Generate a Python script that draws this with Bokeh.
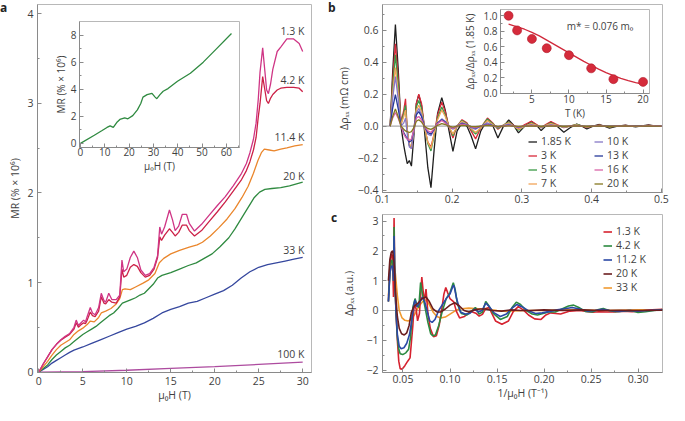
from bokeh.plotting import figure
from bokeh.models import Range1d, FixedTicker, Label, Legend, LegendItem, Span, GridBox, Div
from bokeh.core.properties import value
from bokeh.embed import file_html
from bokeh.resources import INLINE

# ---------------- data: panel a (MR vs field) ----------------
a_x_low = [0, 0.5, 1, 1.5, 2, 2.5, 3, 3.5, 4, 4.25, 4.5, 4.8, 5.1, 5.3, 5.5, 5.85, 6.1, 6.4, 6.8, 7.1,
           7.4, 7.6, 7.95, 8.3, 8.8, 9.2, 9.45, 9.65, 10.0, 10.4, 10.8, 11.2, 11.6, 12.1, 12.6, 13.1,
           13.5, 13.75, 13.95, 14.3, 14.85, 15.2, 15.5, 15.9, 16.3, 16.8, 17.1, 17.7, 18.5, 19.35,
           20.3, 21.2, 22.1, 23.05, 23.6, 24.0, 24.4, 24.7, 24.95, 25.15, 25.45, 25.7, 25.9, 26.1,
           26.35, 26.6, 27.1, 27.5, 28.2, 28.97, 29.6, 30.0]
mr_1p3K = [0, 0.09, 0.17, 0.25, 0.31, 0.36, 0.40, 0.43, 0.50, 0.58, 0.52, 0.55, 0.58, 0.56, 0.62,
           0.72, 0.66, 0.64, 0.72, 0.88, 0.80, 0.78, 0.88, 0.81, 0.81, 0.86, 1.25, 1.12, 1.15, 1.28,
           1.35, 1.28, 1.14, 1.08, 1.10, 1.17, 1.30, 1.62, 1.54, 1.62, 1.81, 1.70, 1.58, 1.63, 1.76,
           1.76, 1.66, 1.575, 1.65, 1.75, 1.86, 1.96, 2.08, 2.22, 2.33, 2.45, 2.60, 2.78, 3.05, 3.35,
           3.62, 3.36, 3.15, 3.11, 3.22, 3.38, 3.58, 3.63, 3.72, 3.72, 3.67, 3.58]
mr_4p2K = [0, 0.09, 0.17, 0.25, 0.31, 0.355, 0.39, 0.42, 0.48, 0.55, 0.50, 0.53, 0.55, 0.54, 0.58,
           0.67, 0.63, 0.62, 0.68, 0.84, 0.77, 0.76, 0.81, 0.78, 0.77, 0.84, 1.15, 1.06, 1.08, 1.17,
           1.20, 1.18, 1.11, 1.06, 1.08, 1.15, 1.28, 1.51, 1.47, 1.53, 1.60, 1.56, 1.52, 1.56, 1.64,
           1.64, 1.58, 1.52, 1.58, 1.68, 1.79, 1.90, 2.02, 2.15, 2.25, 2.35, 2.48, 2.62, 2.85, 3.0,
           3.3, 3.15, 3.03, 3.0, 3.06, 3.1, 3.15, 3.17, 3.18, 3.18, 3.17, 3.13]
a_x_11K = [0, 0.5, 1, 1.5, 2, 2.5, 3, 3.5, 4, 4.5, 5, 5.5, 5.85, 6.3, 6.8, 7.1, 7.6, 8.2, 8.8, 9.2,
           9.5, 9.8, 10.4, 11, 11.8, 12.5, 13.2, 13.7, 14.2, 15, 16, 17.1, 18.0, 18.6, 19.5, 20.45,
           21.4, 22.3, 23.1, 23.8, 24.4, 24.9, 25.3, 25.64, 26.2, 26.75, 27.5, 28.2, 29.1, 30]
mr_11K = [0, 0.06, 0.12, 0.19, 0.25, 0.30, 0.33, 0.36, 0.42, 0.46, 0.49, 0.53, 0.57, 0.56, 0.61,
          0.66, 0.68, 0.71, 0.76, 0.82, 0.92, 0.93, 0.92, 0.95, 0.99, 1.03, 1.10, 1.22, 1.27, 1.32,
          1.36, 1.395, 1.42, 1.45, 1.52, 1.61, 1.71, 1.825, 1.95, 2.075, 2.22, 2.36, 2.45, 2.49,
          2.48, 2.47, 2.49, 2.505, 2.525, 2.54]
a_x_20K = [0, 0.5, 1, 1.5, 2, 2.5, 3, 3.5, 4, 4.5, 5, 5.5, 6, 6.5, 7, 7.5, 8, 8.5, 9, 9.5, 10, 10.5,
           11, 11.5, 12, 12.5, 13, 13.5, 14, 15, 16, 17, 17.9, 18.8, 19.7, 20.6, 21.6, 22.3, 23.05,
           23.8, 24.5, 25.1, 25.7, 26.5, 27.5, 28.5, 30]
mr_20K = [0, 0.04, 0.08, 0.14, 0.19, 0.23, 0.27, 0.30, 0.34, 0.38, 0.42, 0.45, 0.48, 0.51, 0.55,
          0.59, 0.63, 0.66, 0.71, 0.77, 0.79, 0.81, 0.83, 0.86, 0.88, 0.93, 0.98, 1.05, 1.08, 1.11,
          1.15, 1.19, 1.22, 1.27, 1.32, 1.40, 1.50, 1.60, 1.72, 1.84, 1.95, 2.01, 2.04, 2.05, 2.06,
          2.08, 2.12]
a_x_33K = [0, 0.5, 1, 1.5, 2, 2.5, 3, 3.5, 4, 5, 6, 7, 8, 9, 10, 11, 12, 13, 14, 15, 16, 17, 18,
           19, 20, 21, 22, 23, 24, 25, 26, 27, 28, 29, 30]
mr_33K = [0, 0.03, 0.06, 0.10, 0.13, 0.16, 0.19, 0.22, 0.245, 0.28, 0.32, 0.36, 0.40, 0.44, 0.48,
          0.51, 0.55, 0.60, 0.66, 0.70, 0.73, 0.77, 0.79, 0.83, 0.87, 0.91, 0.97, 1.05, 1.12, 1.17,
          1.20, 1.22, 1.24, 1.26, 1.28]
a_x_100K = [0, 5, 10, 15, 20, 25, 30]
mr_100K = [0, 0.005, 0.02, 0.04, 0.06, 0.085, 0.11]
a_names = ["1.3 K", "4.2 K", "11.4 K", "20 K", "33 K", "100 K"]
a_label_y = [3.81, 3.26, 2.62, 2.19, 1.36, 0.20]
a_colors = ["#cf3585", "#cc2147", "#ea862c", "#2f8a40", "#35479e", "#ad4b9f"]

# inset of panel a (to 62 T)
ia_x = [0, 5.7, 8.9, 10.9, 12.2, 13.5, 14.9, 16.2, 18.2, 19.5, 21.5, 23.4, 24.8, 25.7, 27.4, 29.4,
        30.7, 31.4, 32.7, 34, 36, 39.9, 45.2, 50.5, 55.7, 62.1]
ia_y = [0, 0.6, 0.95, 1.18, 1.30, 1.18, 1.54, 1.77, 1.89, 1.82, 2.05, 2.48, 2.95, 3.42, 3.6, 3.70,
        3.42, 3.30, 3.6, 3.85, 4.05, 4.59, 5.18, 6.0, 6.94, 8.11]

# ---------------- data: panel b (oscillations vs 1/B) ----------------
b_x = [0.111, 0.1145, 0.1185, 0.1225, 0.1265, 0.1305, 0.133, 0.1355, 0.1385, 0.1415, 0.145, 0.1485,
       0.152, 0.156, 0.160, 0.165, 0.1695, 0.174, 0.179, 0.185, 0.190, 0.195, 0.201, 0.207, 0.214,
       0.221, 0.227, 0.2335, 0.241, 0.2505, 0.258, 0.2655, 0.273, 0.281, 0.288, 0.295, 0.304,
       0.3135, 0.321, 0.3275, 0.334, 0.3415, 0.350, 0.360, 0.369, 0.3785, 0.386, 0.393, 0.402,
       0.411, 0.418, 0.4255, 0.437, 0.4485, 0.456, 0.463, 0.472, 0.4815, 0.490, 0.500]
b_1p85K = [0.0, 0.33, 0.635, 0.36, 0.0, -0.12, -0.18, -0.235, -0.215, -0.25, -0.06, 0.14, 0.195,
           0.13, -0.02, -0.26, -0.385, -0.15, 0.08, 0.178, 0.10, -0.02, -0.158, -0.03, 0.02, 0.0,
           -0.06, -0.142, -0.03, 0.042, 0.005, -0.074, -0.005, 0.038, 0.005, -0.042, 0.0, 0.03,
           0.005, -0.028, 0.0, 0.026, 0.0, -0.038, -0.01, 0.012, 0.0, -0.018, 0.0, 0.01, 0.0,
           -0.012, 0.0, 0.006, 0.0, -0.005, 0.002, 0.007, 0.002, 0.0]
b_3K = [0.0, 0.28, 0.515, 0.30, 0.02, 0.10, 0.17, -0.02, -0.12, -0.14, -0.03, 0.14, 0.20, 0.14, 0.0,
        -0.10, -0.13, -0.05, 0.07, 0.15, 0.09, 0.0, -0.075, 0.0, 0.04, 0.02, -0.03, -0.08, -0.01,
        0.05, 0.02, -0.02, 0.005, 0.025, 0.005, -0.015, 0.01, 0.03, 0.01, -0.01, 0.01, 0.028, 0.01,
        -0.01, 0.0, 0.01, 0.0, -0.008, 0.0, 0.006, 0.0, -0.005, 0.0, 0.004, 0.0, 0.0, 0.002, 0.004,
        0.001, 0.0]
b_5K = [0.0, 0.24, 0.445, 0.26, 0.01, 0.08, 0.13, -0.03, -0.12, -0.13, -0.03, 0.12, 0.16, 0.11, 0.0,
        -0.11, -0.155, -0.06, 0.05, 0.12, 0.07, 0.0, -0.06, 0.0, 0.035, 0.015, -0.02, -0.05, -0.01,
        0.045, 0.015, -0.015, 0.005, 0.025, 0.0, -0.025, 0.0, 0.02, 0.005, -0.01, 0.005, 0.02,
        0.005, -0.008, 0.0, 0.01, 0.002, -0.005, 0.0, 0.005, 0.0, -0.004, 0.0, 0.003, 0.0, -0.002,
        0.0, 0.003, 0.001, 0.0]
b_7K = [0.0, 0.2, 0.366, 0.21, 0.01, 0.06, 0.10, -0.03, -0.11, -0.13, -0.03, 0.10, 0.13, 0.09, 0.0,
        -0.10, -0.14, -0.05, 0.04, 0.10, 0.06, 0.0, -0.05, 0.0, 0.03, 0.01, -0.015, -0.04, -0.01,
        0.035, 0.01, -0.01, 0.005, 0.02, 0.0, -0.02, 0.0, 0.015, 0.004, -0.008, 0.004, 0.015, 0.004,
        -0.006, 0.0, 0.008, 0.0, -0.004, 0.0, 0.004, 0.0, -0.003, 0.0, 0.002, 0.0, -0.002, 0.0,
        0.002, 0.0, 0.0]
b_10K = [0.0, 0.17, 0.31, 0.17, 0.0, 0.02, 0.05, -0.05, -0.13, -0.14, -0.03, 0.08, 0.11, 0.07, 0.0,
         -0.05, -0.06, -0.02, 0.02, 0.045, 0.03, 0.0, -0.02, 0.0, 0.02, 0.01, -0.01, -0.02, 0.0,
         0.02, 0.005, -0.005, 0.003, 0.012, 0.0, -0.01, 0.0, 0.008, 0.002, -0.005, 0.002, 0.008,
         0.002, -0.004, 0.0, 0.005, 0.0, -0.003, 0.0, 0.003, 0.0, -0.002, 0.0, 0.002, 0.0, -0.001,
         0.0, 0.002, 0.001, 0.0]
b_13K = [0.0, 0.11, 0.197, 0.11, 0.0, -0.04, -0.06, -0.08, -0.10, -0.09, -0.02, 0.07, 0.09, 0.06,
         0.0, -0.04, -0.05, -0.02, 0.02, 0.04, 0.025, 0.0, -0.015, 0.0, 0.015, 0.008, -0.005, -0.012,
         0.0, 0.01, 0.003, -0.004, 0.0, 0.006, 0.0, -0.005, 0.0, 0.004, 0.0, -0.003, 0.0, 0.004,
         0.0, -0.002, 0.0, 0.003, 0.0, -0.002, 0.0, 0.002, 0.0, -0.001, 0.0, 0.001, 0.0, 0.0, 0.0,
         0.001, 0.0, 0.0]
b_16K = [0.0, 0.05, 0.085, 0.05, 0.0, -0.05, -0.07, -0.08, -0.09, -0.08, -0.02, 0.05, 0.06, 0.04,
         0.0, -0.03, -0.04, -0.015, 0.015, 0.035, 0.02, 0.0, -0.015, 0.0, 0.012, 0.006, -0.004,
         -0.01, 0.0, 0.008, 0.002, -0.003, 0.0, 0.005, 0.0, -0.004, 0.0, 0.004, 0.0, -0.003, 0.0,
         0.004, 0.0, -0.003, 0.0, 0.003, 0.0, -0.002, 0.0, 0.003, 0.0, -0.002, 0.0, 0.002, 0.0,
         -0.002, 0.0, 0.003, 0.001, 0.0]
b_20K = [0.0, 0.06, 0.107, 0.06, 0.0, -0.02, -0.03, -0.035, -0.04, -0.035, -0.01, 0.03, 0.04, 0.025,
         0.0, -0.015, -0.02, -0.01, 0.005, 0.015, 0.01, 0.0, -0.006, 0.0, 0.005, 0.003, -0.002,
         -0.004, 0.0, 0.004, 0.001, -0.002, 0.0, 0.002, 0.0, -0.002, 0.0, 0.002, 0.0, -0.001, 0.0,
         0.002, 0.0, -0.001, 0.0, 0.001, 0.0, -0.001, 0.0, 0.001, 0.0, -0.001, 0.0, 0.001, 0.0, 0.0,
         0.0, 0.001, 0.0, 0.0]
b_names = ["1.85 K", "3 K", "5 K", "7 K", "10 K", "13 K", "16 K", "20 K"]
b_colors = ["#1e1e1e", "#d9293a", "#3a9a45", "#f2a458", "#8677c6", "#26389a", "#d963a8", "#857820"]

# inset of panel b: amplitude ratio vs T
ib_T = [1.85, 3, 5, 7, 10, 13, 16, 20]
ib_ratio = [1.0, 0.81, 0.70, 0.58, 0.49, 0.32, 0.18, 0.145]
ib_fit_T = [1.85, 3, 4, 5, 6, 7, 8, 9, 10, 11, 12, 13, 14, 15, 16, 17, 18, 19, 20]
ib_fit = [0.89, 0.855, 0.825, 0.785, 0.74, 0.685, 0.63, 0.575, 0.52, 0.465, 0.41, 0.36, 0.31,
          0.265, 0.225, 0.19, 0.16, 0.135, 0.115]

# ---------------- data: panel c ----------------
c_x_1p3K = [0.0345, 0.0362, 0.0375, 0.0386, 0.0393, 0.0399, 0.0405, 0.0412, 0.0425, 0.044, 0.0455,
            0.047, 0.049, 0.052, 0.055, 0.0575, 0.059, 0.0605, 0.062, 0.064, 0.0655, 0.0675, 0.070,
            0.0725, 0.0745, 0.0765, 0.079, 0.0825, 0.0855, 0.0885, 0.0915, 0.0935, 0.0955, 0.0975,
            0.0999, 0.104, 0.1068, 0.1102, 0.1154, 0.1224, 0.1275, 0.131, 0.1345, 0.138, 0.1415,
            0.1445, 0.1484, 0.1552, 0.1622, 0.1674, 0.1726, 0.178, 0.1835, 0.190, 0.1968, 0.202,
            0.207, 0.2125, 0.2176, 0.2276, 0.238, 0.245, 0.252, 0.258, 0.265, 0.274, 0.284, 0.294,
            0.305, 0.315, 0.326]
c_1p3K = [0.3, 1.6, 1.9, 1.85, 1.2, 0.45, 3.1, 1.4, 0.0, -1.0, -1.7, -1.95, -1.97, -1.85, -1.7,
          -1.59, -1.05, -0.5, 0.25, 0.05, -0.35, -0.1, 1.12, 0.3, 0.72, -0.1, -0.6, -0.88, -0.85,
          -0.5, 0.1, 0.55, 0.77, 0.6, 0.40, 0.29, -0.03, -0.25, -0.2, -0.03, -0.09, -0.19, -0.13,
          0.07, 0.1, -0.1, -0.35, -0.46, -0.35, -0.03, 0.13, 0.02, -0.15, -0.28, -0.30, -0.15,
          -0.08, -0.1, -0.12, -0.02, 0.0, -0.03, -0.06, -0.04, -0.05, -0.05, -0.02, -0.04, -0.01,
          0.02, 0.04]
c_x_4p2K = [0.0345, 0.0362, 0.0378, 0.0392, 0.0399, 0.0405, 0.0412, 0.0425, 0.044, 0.0455, 0.047,
            0.0497, 0.053, 0.056, 0.058, 0.0605, 0.0628, 0.065, 0.0668, 0.0687, 0.071, 0.0735,
            0.0765, 0.0795, 0.0815, 0.0845, 0.088, 0.092, 0.096, 0.100, 0.1035, 0.1055, 0.108,
            0.112, 0.118, 0.123, 0.127, 0.131, 0.1345, 0.138, 0.1415, 0.146, 0.1535, 0.161, 0.166,
            0.1705, 0.175, 0.181, 0.1875, 0.193, 0.199, 0.205, 0.212, 0.219, 0.226, 0.2315, 0.237,
            0.244, 0.251, 0.257, 0.263, 0.269, 0.276, 0.284, 0.292, 0.3, 0.308, 0.317, 0.326]
c_4p2K = [0.3, 1.4, 1.7, 1.6, 1.0, 2.8, 1.2, 0.0, -0.9, -1.3, -1.45, -1.48, -1.42, -1.3, -0.9, 0.1,
          0.40, 0.15, 0.1, 0.94, 0.5, 0.1, -0.4, -0.78, -0.85, -0.82, -0.5, 0.0, 0.4, 0.6, 0.93,
          0.7, 0.2, -0.1, -0.15, -0.02, 0.1, -0.12, -0.05, 0.3, 0.15, -0.1, -0.3, -0.2, 0.1, 0.28,
          0.2, 0.0, -0.12, -0.15, -0.1, -0.05, -0.05, 0.05, 0.15, 0.18, 0.1, -0.03, -0.05, 0.02,
          0.07, 0.0, -0.04, -0.02, 0.0, -0.07, -0.04, 0.0, 0.03]
c_x_11K = [0.0345, 0.0362, 0.0378, 0.0392, 0.0399, 0.0405, 0.0412, 0.0425, 0.044, 0.046, 0.048,
           0.051, 0.054, 0.057, 0.0595, 0.0615, 0.0628, 0.065, 0.0675, 0.0705, 0.073, 0.0755,
           0.0785, 0.081, 0.084, 0.088, 0.092, 0.096, 0.1, 0.1035, 0.1045, 0.107, 0.111, 0.116,
           0.121, 0.126, 0.13, 0.134, 0.138, 0.142, 0.147, 0.1535, 0.16, 0.166, 0.171, 0.177,
           0.184, 0.191, 0.198, 0.206, 0.214, 0.222, 0.23, 0.238, 0.246, 0.254, 0.262, 0.27, 0.28,
           0.29, 0.3, 0.31, 0.326]
c_11K = [0.3, 1.3, 1.5, 1.45, 1.0, 2.5, 1.1, 0.0, -0.8, -1.2, -1.28, -1.25, -1.1, -0.8, -0.3, 0.2,
         0.35, 0.12, 0.25, 0.45, 0.3, 0.0, -0.35, -0.4, -0.3, 0.0, 0.2, 0.4, 0.55, 0.85, 0.8, 0.4,
         -0.05, -0.12, -0.1, 0.05, -0.05, 0.0, 0.25, 0.12, -0.08, -0.2, -0.12, 0.08, 0.2, 0.12,
         -0.02, -0.1, -0.08, -0.03, 0.02, 0.06, 0.1, 0.05, -0.02, 0.0, 0.04, 0.0, -0.03, 0.0, -0.02,
         0.0, 0.02]
c_x_20K = [0.0345, 0.036, 0.0375, 0.039, 0.0405, 0.042, 0.044, 0.046, 0.0485, 0.0514, 0.054,
           0.0565, 0.059, 0.062, 0.066, 0.0705, 0.0745, 0.078, 0.082, 0.086, 0.09, 0.095, 0.1,
           0.105, 0.11, 0.115, 0.12, 0.126, 0.132, 0.138, 0.145, 0.155, 0.165, 0.175, 0.185, 0.2,
           0.22, 0.24, 0.26, 0.28, 0.3, 0.326]
c_20K = [1.0, 1.7, 1.95, 2.0, 1.6, 0.6, -0.2, -0.6, -0.78, -0.82, -0.75, -0.5, -0.05, 0.15, 0.25,
         0.4, 0.45, 0.3, 0.05, -0.05, -0.05, 0.05, 0.18, 0.26, 0.15, 0.0, -0.05, 0.02, 0.05, 0.05,
         0.0, -0.02, 0.02, 0.0, 0.0, 0.02, 0.0, 0.02, 0.0, 0.01, 0.0, 0.01]
c_x_33K = [0.0345, 0.036, 0.038, 0.04, 0.042, 0.044, 0.046, 0.049, 0.052, 0.0555, 0.059, 0.063,
           0.067, 0.071, 0.0745, 0.078, 0.082, 0.086, 0.09, 0.095, 0.1, 0.105, 0.11, 0.12, 0.13,
           0.14, 0.15, 0.16, 0.18, 0.2, 0.22, 0.24, 0.26, 0.28, 0.3, 0.326]
c_33K = [0.5, 1.2, 1.65, 1.7, 1.2, 0.5, 0.0, -0.25, -0.33, -0.35, -0.3, -0.1, 0.15, 0.3, 0.35, 0.2,
         -0.05, -0.2, -0.25, -0.22, -0.12, -0.02, 0.05, 0.08, 0.06, 0.05, 0.0, -0.03, 0.0, 0.0,
         0.02, 0.02, 0.0, 0.01, 0.02, 0.02]
c_names = ["1.3 K", "4.2 K", "11.2 K", "20 K", "33 K"]
c_colors = ["#d6222f", "#2c8a40", "#2b49a6", "#6b1d1f", "#f09a30"]

# ---------------- ticks ----------------
a_xt = [0, 5, 10, 15, 20, 25, 30]; a_xtl = ["0", "5", "10", "15", "20", "25", "30"]
a_yt = [0, 1, 2, 3, 4]; a_ytl = ["0", "1", "2", "3", "4"]
ia_xt = [0, 10, 20, 30, 40, 50, 60]; ia_xtl = ["0", "10", "20", "30", "40", "50", "60"]
ia_yt = [0, 2, 4, 6, 8]; ia_ytl = ["0", "2", "4", "6", "8"]
b_xt = [0.1, 0.2, 0.3, 0.4, 0.5]; b_xtl = ["0.1", "0.2", "0.3", "0.4", "0.5"]
b_yt = [-0.4, -0.2, 0, 0.2, 0.4, 0.6]; b_ytl = ["\u22120.4", "\u22120.2", "0.0", "0.2", "0.4", "0.6"]
ib_xt = [5, 10, 15, 20]; ib_xtl = ["5", "10", "15", "20"]
ib_yt = [0, 0.2, 0.4, 0.6, 0.8, 1]; ib_ytl = ["0.0", "0.2", "0.4", "0.6", "0.8", "1.0"]
c_xt = [0.05, 0.1, 0.15, 0.2, 0.25, 0.3]; c_xtl = ["0.05", "0.10", "0.15", "0.20", "0.25", "0.30"]
c_yt = [-2, -1, 0, 1, 2, 3]; c_ytl = ["\u22122", "\u22121", "0", "1", "2", "3"]
panel_letters = ["a", "b", "c"]

FONT = "Open Sans"
AXC = "#8a8a8a"
TXT = "#3f3f3f"


def mkfig(xr, yr, w, h, l, r, t, b, inset=False):
    p = figure(width=w, height=h, x_range=Range1d(*xr), y_range=Range1d(*yr),
               output_backend="svg", toolbar_location=None, title=None,
               min_border_left=l, min_border_right=r, min_border_top=t, min_border_bottom=b)
    p.xgrid.visible = False
    p.ygrid.visible = False
    p.outline_line_color = "#b8b8b8"
    p.background_fill_color = "white"
    if inset:
        p.border_fill_alpha = 0
    return p


def style_axis(ax, ticks, labels, minor, fs, standoff, label, lstandoff):
    ax.ticker = FixedTicker(ticks=ticks, minor_ticks=minor)
    ax.major_label_overrides = {t: s for t, s in zip(ticks, labels)}
    ax.axis_line_color = AXC
    ax.major_tick_line_color = AXC
    ax.minor_tick_line_color = AXC
    ax.major_tick_in = 4
    ax.major_tick_out = 0
    ax.minor_tick_in = 2
    ax.minor_tick_out = 0
    ax.major_label_text_font = FONT
    ax.major_label_text_font_size = fs
    ax.major_label_text_color = TXT
    ax.major_label_standoff = standoff
    ax.axis_label = label
    ax.axis_label_text_font = FONT
    ax.axis_label_text_font_style = "normal"
    ax.axis_label_text_font_size = fs
    ax.axis_label_text_color = TXT
    ax.axis_label_standoff = lstandoff


def letter_div(txt, left, top):
    html = ('<div style="font-family:\'Open Sans\';font-weight:bold;font-size:12px;'
            'line-height:10px;color:#222;margin:0;padding-left:%dpx;padding-top:%dpx;">%s</div>'
            % (left, top, txt))
    return Div(text=html, width=16, height=16, margin=0)


def legend(p, items, x, y):
    lg = Legend(items=items, location=(x, y), label_text_font=FONT,
                label_text_font_size="10.5px", label_text_color=TXT, glyph_width=9,
                glyph_height=13, label_height=13, label_standoff=4, spacing=0, padding=0,
                margin=0, border_line_alpha=0, background_fill_alpha=0)
    p.add_layout(lg)


# ---------------- panel a ----------------
pa = mkfig((-0.15, 31.0), (-0.005, 4.105), 318, 405, 37, 7, 4, 33)
style_axis(pa.xaxis[0], a_xt, a_xtl, [2.5, 7.5, 12.5, 17.5, 22.5, 27.5], "10.5px", 4,
           "\u03bc\u2080H (T)", 0)
style_axis(pa.yaxis[0], a_yt, a_ytl, [0.5, 1.5, 2.5, 3.5], "10.5px", 4, "MR (% \u00d7 10\u2076)", 2)
a_series = [(a_x_low, mr_1p3K), (a_x_low, mr_4p2K), (a_x_11K, mr_11K), (a_x_20K, mr_20K),
            (a_x_33K, mr_33K), (a_x_100K, mr_100K)]
for (xs, ys), col in zip(a_series[::-1], a_colors[::-1]):
    pa.line(xs, ys, line_color=col, line_width=1.3)
pa.text(x=[30.2] * len(a_names), y=a_label_y, text=a_names, text_font=value(FONT),
        text_font_size="10.5px", text_color=TXT, text_align="right", text_baseline="middle")

# inset of a
pia = mkfig((-0.4, 65.4), (-0.3, 9.0), 194, 166, 26, 5, 5, 35, inset=True)
style_axis(pia.xaxis[0], ia_xt, ia_xtl, [5, 15, 25, 35, 45, 55, 65], "10px", 0,
           "\u03bc\u2080H (T)", 0)
style_axis(pia.yaxis[0], ia_yt, ia_ytl, [1, 3, 5, 7], "10px", 3, "MR (% \u00d7 10\u2076)", 0)
pia.line(ia_x, ia_y, line_color="#2f8a40", line_width=1.3)

# ---------------- panel b ----------------
pb = mkfig((0.1, 0.5015), (-0.415, 0.76), 344, 210, 57, 7, 3, 18)
style_axis(pb.xaxis[0], b_xt, b_xtl, [0.15, 0.25, 0.35, 0.45], "10.5px", 2, None, 0)
style_axis(pb.yaxis[0], b_yt, b_ytl, [-0.3, -0.1, 0.1, 0.3, 0.5, 0.7], "10.5px", 4,
           "\u0394\u03c1\u2093\u2093 (m\u03a9 cm)", 4)
pb.add_layout(Span(location=0, dimension="width", line_color="#a8a8a8", line_width=1.2,
                   level="underlay"))
b_series = [b_1p85K, b_3K, b_5K, b_7K, b_10K, b_13K, b_16K, b_20K]
b_rend = []
for ys, col in zip(b_series, b_colors):
    b_rend.append(pb.line(b_x, ys, line_color=col, line_width=1.3))
legend(pb, [LegendItem(label=n, renderers=[r]) for n, r in zip(b_names[:4], b_rend[:4])], 146, 2)
legend(pb, [LegendItem(label=n, renderers=[r]) for n, r in zip(b_names[4:], b_rend[4:])], 212, 2)

# inset of b
pib = mkfig((0.76, 20.87), (-0.005, 1.08), 196, 118, 38, 7, 4, 30, inset=True)
style_axis(pib.xaxis[0], ib_xt, ib_xtl, [2.5, 7.5, 12.5, 17.5], "10px", 1, "T (K)", 0)
style_axis(pib.yaxis[0], ib_yt, ib_ytl, [0.1, 0.3, 0.5, 0.7, 0.9], "10px", 3,
           "\u0394\u03c1\u2093\u2093/\u0394\u03c1\u2093\u2093 (1.85 K)", 3)
pib.line(ib_fit_T, ib_fit, line_color="#d0283a", line_width=1.3)
pib.scatter(ib_T, ib_ratio, size=9, fill_color="#d52b3b", line_color="#b01828", line_width=0.6)
pib.add_layout(Label(x=14.2, y=0.87, text="m* = 0.076 m\u2080", text_font=FONT,
                     text_font_size="10px", text_color=TXT, text_align="center",
                     text_baseline="middle"))

# ---------------- panel c ----------------
pc = mkfig((0.0282, 0.326), (-2.08, 3.22), 344, 195, 57, 7, 4, 32)
style_axis(pc.xaxis[0], c_xt, c_xtl, [0.075, 0.125, 0.175, 0.225, 0.275], "10.5px", 2,
           "1/\u03bc\u2080H (T\u207b\u00b9)", 0)
style_axis(pc.yaxis[0], c_yt, c_ytl, [-1.5, -0.5, 0.5, 1.5, 2.5], "10.5px", 4,
           "\u0394\u03c1\u2093\u2093 (a.u.)", 7)
pc.add_layout(Span(location=0, dimension="width", line_color="#a8a8a8", line_width=1.2,
                   level="underlay"))
c_series = [(c_x_1p3K, c_1p3K), (c_x_4p2K, c_4p2K), (c_x_11K, c_11K), (c_x_20K, c_20K),
            (c_x_33K, c_33K)]
c_rend = {}
for i in [4, 0, 1, 2, 3]:
    xs, ys = c_series[i]
    c_rend[i] = pc.line(xs, ys, line_color=c_colors[i], line_width=1.6)
legend(pc, [LegendItem(label=c_names[i], renderers=[c_rend[i]]) for i in range(5)], 221, 78)

la = letter_div(panel_letters[0], 0, 0)
lb = letter_div(panel_letters[1], 3, 2)
lc = letter_div(panel_letters[2], 6, 0)

grid = GridBox(children=[(pa, 0, 0, 6, 3), (pb, 0, 4, 5, 3), (pc, 5, 4, 1, 3),
                         (pia, 2, 1, 2, 1), (pib, 1, 5, 2, 1),
                         (la, 0, 0, 2, 1), (lb, 0, 4, 2, 1), (lc, 5, 4, 1, 1)],
               rows=["5px", "11px", "107px", "59px", "28px", "195px"],
               cols=["50px", "194px", "74px", "7px", "135px", "196px", "13px"])

open("out.html", "w").write(file_html(grid, INLINE, title="chart"))
